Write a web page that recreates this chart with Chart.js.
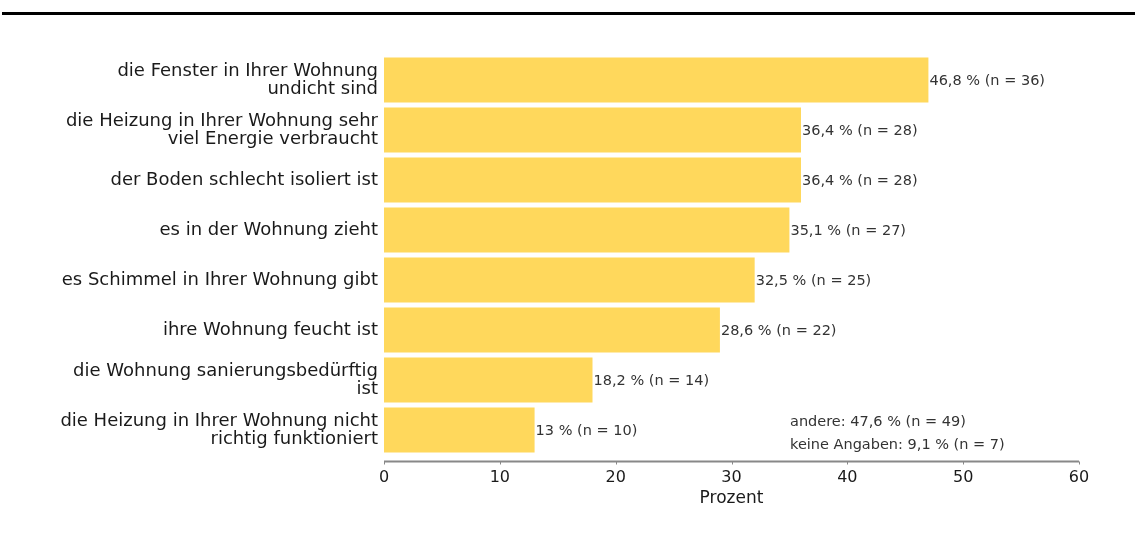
<!DOCTYPE html>
<html>
<head>
<meta charset="utf-8">
<script src="https://cdn.jsdelivr.net/npm/chart.js@4.4.1/dist/chart.umd.min.js"></script>
<style>
  html, body { margin: 0; padding: 0; background: #ffffff; }
  #wrap { position: relative; width: 1135px; height: 534px; }
</style>
</head>
<body>
<div id="wrap"><canvas id="c" width="1135" height="534"></canvas></div>
<script>
// ---- data ----
const categories = [
  ['die Fenster in Ihrer Wohnung', 'undicht sind'],
  ['die Heizung in Ihrer Wohnung sehr', 'viel Energie verbraucht'],
  'der Boden schlecht isoliert ist',
  'es in der Wohnung zieht',
  'es Schimmel in Ihrer Wohnung gibt',
  'ihre Wohnung feucht ist',
  ['die Wohnung sanierungsbedürftig', 'ist'],
  ['die Heizung in Ihrer Wohnung nicht', 'richtig funktioniert']
];
const barValues = [47, 36, 36, 35, 32, 29, 18, 13];
const percentLabels = [46.8, 36.4, 36.4, 35.1, 32.5, 28.6, 18.2, 13];
const counts = [36, 28, 28, 27, 25, 22, 14, 10];
const xTicks = [0, 10, 20, 30, 40, 50, 60];
const notes = ['andere: 47,6 % (n = 49)', 'keine Angaben: 9,1 % (n = 7)'];
const axisTitle = 'Prozent';

const FONT = "'DejaVu Sans', Verdana, sans-serif";
const fmt = (p, n) => String(p).replace('.', ',') + ' % (n = ' + n + ')';

const decoPlugin = {
  id: 'deco',
  beforeDraw(chart) {
    const ctx = chart.ctx;
    ctx.save();
    ctx.fillStyle = '#000';
    ctx.fillRect(2, 12, 1133, 3);
    ctx.restore();
  },
  afterDraw(chart) {
    const ctx = chart.ctx;
    const xs = chart.scales.x;
    const area = chart.chartArea;
    ctx.save();
    // axis line
    const ay = area.bottom + 6.5;
    ctx.strokeStyle = '#888888';
    ctx.lineWidth = 2;
    ctx.beginPath();
    ctx.moveTo(xs.getPixelForValue(xTicks[0]), ay);
    ctx.lineTo(xs.getPixelForValue(xTicks[xTicks.length - 1]), ay);
    ctx.stroke();
    ctx.lineWidth = 1;
    xTicks.forEach(t => {
      const px = Math.round(xs.getPixelForValue(t)) + 0.5;
      ctx.beginPath();
      ctx.moveTo(px, ay);
      ctx.lineTo(px, ay + 3);
      ctx.stroke();
    });
    // value labels
    ctx.font = '14.5px ' + FONT;
    ctx.fillStyle = '#333333';
    ctx.textAlign = 'left';
    ctx.textBaseline = 'middle';
    const meta = chart.getDatasetMeta(0);
    meta.data.forEach((bar, i) => {
      ctx.fillText(fmt(percentLabels[i], counts[i]), bar.x + 1, bar.y + 1);
    });
    // notes
    const nx = area.left + 406;
    ctx.fillText(notes[0], nx, area.bottom - 33);
    ctx.fillText(notes[1], nx, area.bottom - 10);
    ctx.restore();
  }
};

new Chart(document.getElementById('c'), {
  type: 'bar',
  data: {
    labels: categories,
    datasets: [{
      data: barValues,
      backgroundColor: '#FFD85C',
      borderWidth: 0,
      barPercentage: 0.9,
      categoryPercentage: 1.0
    }]
  },
  options: {
    indexAxis: 'y',
    responsive: false,
    animation: false,
    events: [],
    layout: { padding: { top: 55, right: 56, left: 0, bottom: 0 } },
    plugins: { legend: { display: false }, tooltip: { enabled: false } },
    scales: {
      y: {
        type: 'category',
        grid: { display: false, drawTicks: false },
        border: { display: false },
        ticks: {
          color: '#1a1a1a',
          padding: 6,
          font: { family: FONT, size: 18, lineHeight: '18px' }
        },
        afterFit(s) { s.width = 384; }
      },
      x: {
        type: 'linear',
        min: xTicks[0],
        max: xTicks[xTicks.length - 1],
        grid: { display: false, drawTicks: false },
        border: { display: false },
        afterBuildTicks(s) { s.ticks = xTicks.map(v => ({ value: v })); },
        ticks: {
          color: '#1a1a1a',
          padding: 13,
          font: { family: FONT, size: 16 }
        },
        title: {
          display: true,
          text: axisTitle,
          color: '#1a1a1a',
          font: { family: FONT, size: 17 },
          padding: { top: 0, bottom: 25 }
        },
        afterFit(s) { s.height = 79; }
      }
    }
  },
  plugins: [decoPlugin]
});
</script>
</body>
</html>
